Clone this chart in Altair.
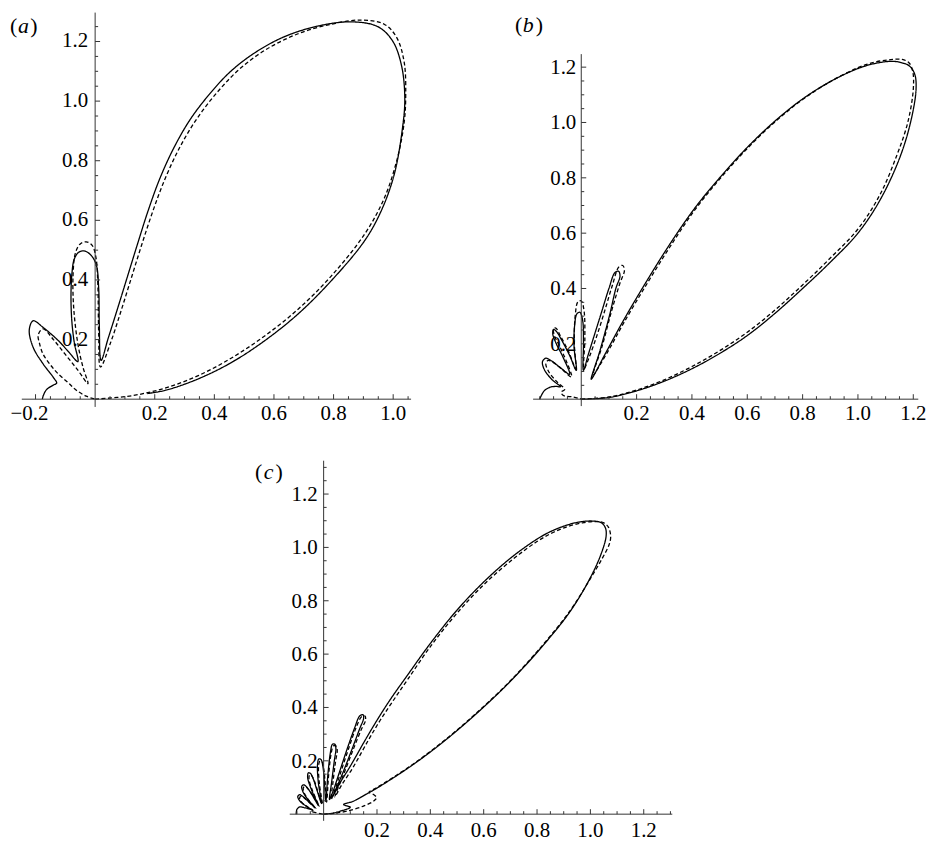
import altair as alt
import pandas as pd

FONT = "Liberation Serif"

# ---------------- panel (a) ----------------
a_solid_x = [0.175, 0.237, 0.348, 0.459, 0.570, 0.681, 0.792, 0.903, 0.959, 1.003, 1.031, 1.039, 1.028, 0.998, 0.948,
             0.859, 0.748, 0.637, 0.540, 0.455, 0.385, 0.320, 0.265, 0.217, 0.177, 0.142, 0.108, 0.074, 0.044, 0.020,
             0.014, 0.012, 0.004, -0.013, -0.035, -0.055, -0.070, -0.078, -0.081, -0.078, -0.070, -0.058,
             -0.090, -0.124, -0.175, -0.208, -0.221, -0.208, -0.175, -0.141, -0.129, -0.141, -0.163, -0.174, -0.177]
a_solid_y = [0.019, 0.030, 0.069, 0.124, 0.197, 0.286, 0.397, 0.530, 0.630, 0.752, 0.908, 1.008, 1.119, 1.202, 1.250,
             1.266, 1.252, 1.217, 1.165, 1.100, 1.025, 0.940, 0.845, 0.740, 0.630, 0.520, 0.410, 0.300, 0.205, 0.130,
             0.250, 0.370, 0.450, 0.482, 0.497, 0.493, 0.470, 0.420, 0.340, 0.260, 0.190, 0.126,
             0.160, 0.197, 0.241, 0.263, 0.232, 0.174, 0.119, 0.074, 0.054, 0.047, 0.032, 0.012, 0.000]
a_dash_x = [0.000, 0.126, 0.237, 0.348, 0.459, 0.570, 0.681, 0.792, 0.903, 0.970, 1.014, 1.037, 1.042, 1.037,
            1.012, 0.970,
            0.892, 0.792, 0.681, 0.575, 0.485, 0.410, 0.342, 0.284, 0.234, 0.192, 0.155, 0.120, 0.085, 0.052, 0.018,
            0.012, 0.009, 0.003, -0.010, -0.030, -0.050, -0.066, -0.074, -0.072, -0.058, -0.041, -0.024,
            -0.060, -0.100, -0.140, -0.175, -0.191, -0.186, -0.175, -0.150, -0.125, -0.090, -0.063, -0.030, 0.000]
a_dash_y = [0.000, 0.012, 0.038, 0.080, 0.139, 0.213, 0.302, 0.413, 0.552, 0.674, 0.808, 0.930, 1.019, 1.130,
            1.213, 1.258,
            1.272, 1.258, 1.226, 1.174, 1.108, 1.030, 0.942, 0.845, 0.738, 0.626, 0.514, 0.402, 0.290, 0.190, 0.108,
            0.219, 0.386, 0.474, 0.516, 0.528, 0.521, 0.491, 0.419, 0.308, 0.186, 0.108, 0.052,
            0.100, 0.150, 0.200, 0.236, 0.215, 0.185, 0.152, 0.115, 0.086, 0.055, 0.030, 0.010, 0.000]
a_xmajor = [-0.2, 0.2, 0.4, 0.6, 0.8, 1.0]
a_xlabels = ["\u22120.2", "0.2", "0.4", "0.6", "0.8", "1.0"]
a_ymajor = [0.2, 0.4, 0.6, 0.8, 1.0, 1.2]
a_ylabels = ["0.2", "0.4", "0.6", "0.8", "1.0", "1.2"]

# ---------------- panel (b) ----------------
b_solid_x = [0.000, 0.100, 0.200, 0.300, 0.400, 0.500, 0.600, 0.700, 0.800, 0.900, 1.000, 1.080, 1.150, 1.190,
             1.210, 1.205, 1.185, 1.150, 1.119,
             1.060, 1.000, 0.904, 0.800, 0.700, 0.600, 0.500, 0.410, 0.320, 0.233, 0.150, 0.090, 0.036,
             0.066, 0.102, 0.125, 0.140, 0.135, 0.122, 0.100, 0.075, 0.050, 0.025, 0.008,
             0.008, 0.005, -0.005, -0.016, -0.024, -0.026, -0.018,
             -0.042, -0.070, -0.090, -0.100, -0.103, -0.090, -0.066, -0.042,
             -0.078, -0.110, -0.128, -0.140, -0.134, -0.105, -0.075,
             -0.090, -0.110, -0.132, -0.144, -0.150]
b_solid_y = [0.000, 0.006, 0.030, 0.065, 0.110, 0.165, 0.230, 0.310, 0.400, 0.495, 0.600, 0.720, 0.870, 1.000,
             1.120, 1.175, 1.205, 1.218, 1.221,
             1.213, 1.195, 1.150, 1.085, 1.005, 0.910, 0.800, 0.690, 0.560, 0.421, 0.280, 0.170, 0.072,
             0.170, 0.302, 0.400, 0.445, 0.462, 0.458, 0.400, 0.320, 0.240, 0.160, 0.104,
             0.206, 0.285, 0.314, 0.308, 0.266, 0.190, 0.104,
             0.158, 0.212, 0.245, 0.252, 0.236, 0.200, 0.152, 0.090,
             0.116, 0.140, 0.148, 0.136, 0.108, 0.070, 0.045,
             0.046, 0.044, 0.032, 0.014, 0.000]
b_dash_x = [0.000, 0.100, 0.200, 0.300, 0.400, 0.500, 0.600, 0.700, 0.800, 0.900, 1.000, 1.080, 1.140, 1.180,
            1.200, 1.198, 1.185, 1.160, 1.119,
            1.060, 1.000, 0.904, 0.800, 0.700, 0.600, 0.500, 0.412, 0.324, 0.238, 0.156, 0.096, 0.042,
            0.075, 0.110, 0.140, 0.156, 0.150, 0.136, 0.112, 0.085, 0.055, 0.028, 0.010,
            0.013, 0.010, 0.000, -0.012, -0.022, -0.025, -0.020,
            -0.045, -0.075, -0.092, -0.100, -0.098, -0.080, -0.055, -0.035,
            -0.070, -0.100, -0.120, -0.128, -0.118, -0.090, -0.060,
            -0.072, -0.066, -0.030, -0.006, 0.000]
b_dash_y = [0.000, 0.008, 0.033, 0.070, 0.118, 0.175, 0.242, 0.322, 0.413, 0.510, 0.615, 0.740, 0.880, 1.000,
            1.120, 1.185, 1.215, 1.228, 1.227,
            1.218, 1.198, 1.150, 1.083, 1.002, 0.906, 0.795, 0.686, 0.556, 0.418, 0.280, 0.172, 0.086,
            0.190, 0.320, 0.420, 0.465, 0.483, 0.478, 0.410, 0.320, 0.225, 0.150, 0.110,
            0.220, 0.320, 0.355, 0.352, 0.300, 0.200, 0.110,
            0.170, 0.228, 0.257, 0.255, 0.232, 0.195, 0.140, 0.080,
            0.108, 0.132, 0.140, 0.128, 0.100, 0.065, 0.035,
            0.026, 0.014, 0.008, 0.002, 0.000]
b_xmajor = [0.2, 0.4, 0.6, 0.8, 1.0, 1.2]
b_xlabels = ["0.2", "0.4", "0.6", "0.8", "1.0", "1.2"]
b_ymajor = [0.2, 0.4, 0.6, 0.8, 1.0, 1.2]
b_ylabels = ["0.2", "0.4", "0.6", "0.8", "1.0", "1.2"]

# ---------------- panel (c) ----------------
c_solid_x = [0.000, 0.035, 0.065, 0.100, 0.075, 0.110, 0.160, 0.202, 0.327, 0.451, 0.575, 0.699, 0.823, 0.922,
             0.997, 1.040, 1.059, 1.056, 1.040,
             1.003, 0.947, 0.885, 0.823, 0.720, 0.610, 0.500, 0.400, 0.310, 0.250, 0.205, 0.160, 0.100, 0.060, 0.035,
             0.070, 0.105, 0.135, 0.150, 0.147, 0.135, 0.115, 0.090, 0.060, 0.035, 0.022,
             0.030, 0.040, 0.046, 0.042, 0.033, 0.026, 0.016, 0.008,
             0.003, -0.003, -0.010, -0.018, -0.023, -0.020, -0.008,
             -0.025, -0.040, -0.050, -0.057, -0.060, -0.045, -0.020,
             -0.045, -0.062, -0.074, -0.082, -0.078, -0.055, -0.032,
             -0.060, -0.080, -0.090, -0.097, -0.088, -0.062, -0.045,
             -0.070, -0.090, -0.100, -0.103]
c_solid_y = [0.000, 0.004, 0.012, 0.026, 0.036, 0.048, 0.075, 0.099, 0.180, 0.273, 0.379, 0.497, 0.633, 0.757,
             0.881, 0.975, 1.043, 1.074, 1.093,
             1.099, 1.093, 1.074, 1.045, 0.975, 0.880, 0.765, 0.640, 0.515, 0.430, 0.360, 0.285, 0.180, 0.115, 0.068,
             0.150, 0.240, 0.320, 0.360, 0.373, 0.368, 0.320, 0.250, 0.160, 0.085, 0.055,
             0.120, 0.200, 0.245, 0.262, 0.262, 0.235, 0.150, 0.048,
             0.120, 0.180, 0.205, 0.207, 0.185, 0.120, 0.040,
             0.090, 0.135, 0.153, 0.155, 0.138, 0.090, 0.033,
             0.075, 0.100, 0.110, 0.105, 0.085, 0.050, 0.024,
             0.050, 0.068, 0.073, 0.066, 0.048, 0.028, 0.017,
             0.024, 0.027, 0.018, 0.000]
c_dash_x = [0.000, 0.040, 0.089, 0.151, 0.189, 0.198, 0.185, 0.170, 0.202, 0.327, 0.451, 0.575, 0.699, 0.823,
            0.922, 0.997, 1.045, 1.070, 1.076, 1.068, 1.050,
            1.020, 0.975, 0.920, 0.860, 0.800, 0.715, 0.605, 0.497, 0.400, 0.315, 0.257, 0.212, 0.168, 0.110,
            0.068, 0.042,
            0.075, 0.110, 0.140, 0.157, 0.155, 0.142, 0.120, 0.095, 0.065, 0.040, 0.028,
            0.035, 0.045, 0.051, 0.047, 0.037, 0.029, 0.019, 0.011,
            0.006, 0.000, -0.006, -0.014, -0.019, -0.016, -0.005,
            -0.022, -0.036, -0.046, -0.052, -0.055, -0.041, -0.017,
            -0.041, -0.058, -0.069, -0.076, -0.073, -0.051, -0.029,
            -0.056, -0.075, -0.084, -0.090, -0.082, -0.057, -0.040,
            -0.048, -0.030, -0.012, 0.000]
c_dash_y = [0.000, 0.003, 0.012, 0.031, 0.050, 0.062, 0.075, 0.082, 0.101, 0.182, 0.275, 0.381, 0.499, 0.636,
            0.760, 0.878, 0.960, 1.010, 1.040, 1.075, 1.092,
            1.097, 1.093, 1.080, 1.056, 1.022, 0.960, 0.865, 0.750, 0.628, 0.505, 0.420, 0.352, 0.278, 0.175,
            0.110, 0.065,
            0.150, 0.240, 0.315, 0.352, 0.368, 0.365, 0.320, 0.250, 0.160, 0.085, 0.055,
            0.120, 0.200, 0.238, 0.255, 0.256, 0.232, 0.150, 0.045,
            0.115, 0.172, 0.196, 0.199, 0.180, 0.115, 0.037,
            0.086, 0.128, 0.146, 0.148, 0.132, 0.086, 0.030,
            0.071, 0.094, 0.104, 0.099, 0.080, 0.046, 0.021,
            0.046, 0.063, 0.068, 0.061, 0.044, 0.025, 0.014,
            0.010, 0.006, 0.002, 0.000]
c_xmajor = [0.2, 0.4, 0.6, 0.8, 1.0, 1.2]
c_xlabels = ["0.2", "0.4", "0.6", "0.8", "1.0", "1.2"]
c_ymajor = [0.2, 0.4, 0.6, 0.8, 1.0, 1.2]
c_ylabels = ["0.2", "0.4", "0.6", "0.8", "1.0", "1.2"]

LABEL_SIZE = 21


def minor(lo, hi):
    return [round(i * 0.05, 2) for i in range(lo, hi + 1) if i % 4 != 0]


def panel(sx, sy, dx_, dy_, xmaj, xlab, ymaj, ylab, xmin_, ymin_, xaxis, yaxis,
          k, ox, oy, left, top, w, h, ydx, ydy, xdy, pieces):
    xs = alt.Scale(domain=[(left - ox) / k, (left + w - ox) / k], nice=False, zero=False)
    ys = alt.Scale(domain=[(oy - (top + h)) / k, (oy - top) / k], nice=False, zero=False)

    curves = pd.concat([
        pd.DataFrame({"x": sx, "y": sy, "i": range(len(sx)), "s": "solid"}),
        pd.DataFrame({"x": dx_, "y": dy_, "i": range(len(dx_)), "s": "dashed"}),
    ])
    lines = alt.Chart(curves).mark_line(
        interpolate="catmull-rom", color="black", strokeWidth=1.3, clip=False
    ).encode(
        x=alt.X("x:Q", scale=xs, axis=None),
        y=alt.Y("y:Q", scale=ys, axis=None),
        order="i:Q",
        detail="s:N",
        strokeDash=alt.StrokeDash("s:N", scale=alt.Scale(domain=["solid", "dashed"],
                                                          range=[[1, 0], [4, 2.5]]), legend=None),
    )

    axes_df = pd.DataFrame({"x": [xaxis[0], 0], "x2": [xaxis[1], 0],
                            "y": [0, yaxis[0]], "y2": [0, yaxis[1]]})
    rows = []
    for v in xmaj:
        rows.append({"x": v, "x2": v, "y": 0, "y2": 5 / k})
    for v in xmin_:
        rows.append({"x": v, "x2": v, "y": 0, "y2": 3 / k})
    for v in ymaj:
        rows.append({"x": 0, "x2": 5 / k, "y": v, "y2": v})
    for v in ymin_:
        rows.append({"x": 0, "x2": 3 / k, "y": v, "y2": v})
    ticks_df = pd.concat([axes_df, pd.DataFrame(rows)])
    rules = alt.Chart(ticks_df).mark_rule(color="#333333", strokeWidth=1).encode(
        x=alt.X("x:Q", scale=xs, axis=None), x2="x2:Q",
        y=alt.Y("y:Q", scale=ys, axis=None), y2="y2:Q",
    )

    xl = pd.DataFrame({"x": xmaj, "y": 0.0, "t": xlab})
    xl_pos = xl[xl["x"] > 0]
    xl_neg = xl[xl["x"] < 0]
    xtext = alt.Chart(xl_pos).mark_text(align="center", baseline="alphabetic", dy=xdy,
                                        fontSize=LABEL_SIZE, font=FONT, color="black").encode(
        x=alt.X("x:Q", scale=xs, axis=None), y=alt.Y("y:Q", scale=ys, axis=None), text="t:N")
    layers = [lines, rules, xtext]
    if len(xl_neg):
        layers.append(alt.Chart(xl_neg).mark_text(align="right", baseline="alphabetic", dy=xdy, dx=13,
                                                  fontSize=LABEL_SIZE, font=FONT, color="black").encode(
            x=alt.X("x:Q", scale=xs, axis=None), y=alt.Y("y:Q", scale=ys, axis=None), text="t:N"))
    yl = pd.DataFrame({"x": 0.0, "y": ymaj, "t": ylab})
    layers.append(alt.Chart(yl).mark_text(align="right", baseline="alphabetic", dx=ydx, dy=ydy,
                                          fontSize=LABEL_SIZE, font=FONT, color="black").encode(
        x=alt.X("x:Q", scale=xs, axis=None), y=alt.Y("y:Q", scale=ys, axis=None), text="t:N"))
    for txt, px, py, italic in pieces:
        layers.append(alt.Chart(pd.DataFrame({"t": [txt]})).mark_text(
            align="left", baseline="alphabetic", fontSize=22, font=FONT, color="black",
            fontStyle="italic" if italic else "normal").encode(
            x=alt.value(px), y=alt.value(py), text="t:N"))
    return alt.layer(*layers).properties(width=w, height=h)


A = panel(a_solid_x, a_solid_y, a_dash_x, a_dash_y, a_xmajor, a_xlabels, a_ymajor, a_ylabels,
          minor(-4, 21), minor(1, 25), (-0.246, 1.06), (-0.026, 1.297),
          300.0, 95.7, 399.0, 8, 8, 452, 420, -7, 6, 21,
          [("(", 2, 22, False), ("a", 10, 22, True), (")", 22.5, 22, False)])
B = panel(b_solid_x, b_solid_y, b_dash_x, b_dash_y, b_xmajor, b_xlabels, b_ymajor, b_ylabels,
          minor(-3, 24), minor(1, 24), (-0.174, 1.218), (-0.025, 1.247),
          278.5, 585.0, 399.0, 460, 8, 472, 420, -5, 7, 21,
          [("(", 58.3, 21, False), ("b", 66, 21, True), (")", 79.3, 21, False)])
C = panel(c_solid_x, c_solid_y, c_dash_x, c_dash_y, c_xmajor, c_xlabels, c_ymajor, c_ylabels,
          minor(-2, 26), minor(1, 26), (-0.127, 1.307), (-0.025, 1.325),
          268.5, 325.7, 816.7, 8, 428, 700, 414, -6, 7, 23,
          [("(", 248.7, 51, False), ("c", 257.5, 51, True), (")", 269.3, 51, False)])

chart = alt.vconcat(
    alt.hconcat(A, B, spacing=0),
    C, spacing=0
).properties(padding=0).configure(font=FONT).configure_view(stroke=None, strokeWidth=0)

chart.save("out.html", embed_options={"renderer": "svg", "actions": False})
